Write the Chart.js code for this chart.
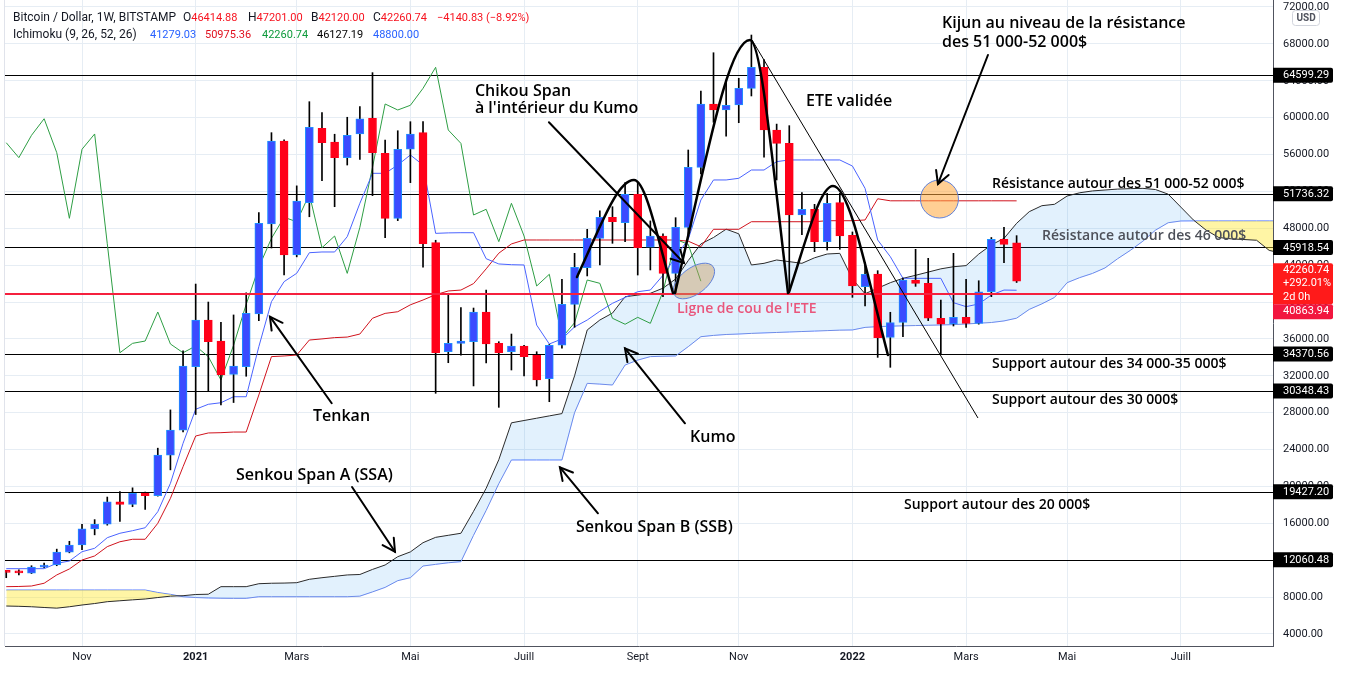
<!DOCTYPE html>
<html>
<head>
<meta charset="utf-8">
<script src="https://cdn.jsdelivr.net/npm/chart.js@4.4.1/dist/chart.umd.min.js"></script>
<style>
  html, body { margin: 0; padding: 0; background: #fff; }
</style>
</head>
<body>
<canvas id="chart" width="1345" height="677"></canvas>
<script>
// weekly candles, BTC/USD Bitstamp, week 0 = 21 Sep 2020 ... week 80 = 4 Apr 2022
const opens = [
  10780, 10730, 10600, 11250, 11480, 12880, 13650, 15400, 15900, 18320,
  18060, 19260, 19000, 23400, 26100, 33000, 38050, 35770, 32150, 33000,
  38700, 48460, 57470, 45100, 50780, 58840, 57360, 55660, 58230, 59930,
  56130, 49080, 56570, 58370, 46440, 34610, 35520, 35700, 38920, 35520,
  34610, 35230, 34220, 31690, 35310, 39750, 43730, 46910, 49190, 48600,
  51690, 45940, 47160, 43110, 48100, 54610, 61480, 60830, 61370, 63180,
  65460, 58660, 57210, 49440, 50060, 46550, 50780, 47240, 41670, 43040,
  36160, 37800, 42390, 42030, 38240, 37620, 38340, 37690, 41120, 46800,
  46414.88
];
const highs = [
  10820, 10950, 11400, 11700, 13200, 14050, 15900, 16400, 18850, 19450,
  19850, 19400, 24150, 28300, 34700, 41950, 40000, 37800, 38600, 41000,
  49700, 58370, 57600, 52600, 61730, 60540, 58200, 60040, 61190, 64880,
  57570, 58580, 59560, 59560, 46700, 40950, 39390, 39350, 41300, 35700,
  36530, 35300, 34610, 35400, 42470, 45280, 47890, 49900, 50340, 52950,
  52870, 48800, 47400, 49150, 56490, 62890, 67040, 64080, 64270, 68960,
  66300, 59300, 59130, 51860, 50600, 51790, 51790, 47600, 44310, 43400,
  38890, 42600, 45720, 44740, 40220, 45280, 42470, 42310, 47000, 48100,
  47201.00
];
const lows = [
  10100, 10400, 10550, 11200, 11400, 12800, 13150, 14750, 15800, 16200,
  17800, 17500, 18950, 21800, 25900, 27800, 30300, 28850, 29100, 31950,
  37980, 45860, 42930, 44900, 49250, 53160, 50340, 54860, 55480, 51540,
  46980, 48830, 52950, 43770, 30100, 33420, 34250, 30900, 33390, 28580,
  32630, 31980, 30890, 29190, 35000, 37260, 42830, 44020, 46370, 46550,
  42930, 43480, 40580, 40950, 47100, 53900, 59500, 58000, 59450, 62350,
  55700, 53240, 41300, 47300, 45460, 45640, 45720, 40510, 39570, 34000,
  32920, 36240, 41700, 37980, 34360, 37400, 37260, 37600, 40580, 44270,
  42120.00
];
const closes = [
  10680, 10620, 11250, 11480, 12880, 13650, 15400, 15900, 18320, 18060,
  19260, 19000, 23400, 26100, 33050, 38050, 35700, 32100, 33060, 38770,
  48540, 57470, 45100, 50960, 58950, 57280, 55660, 58080, 59880, 56200,
  49080, 56570, 58230, 46330, 34500, 35520, 35770, 38920, 35450, 34500,
  35230, 34070, 31550, 35310, 39750, 43770, 46910, 49190, 48710, 51690,
  45890, 47160, 43110, 48100, 54610, 61480, 60830, 61340, 63180, 65460,
  58660, 57210, 49440, 50060, 46550, 50710, 47160, 41740, 43010, 36130,
  37760, 42390, 42030, 38240, 37590, 38340, 37690, 41120, 46800, 46260,
  42260.74
];

// Ichimoku lines (per week)
const tenkan = [
  11080, 11080, 11080, 11080, 11660, 11910, 12920, 13290, 14440, 14920,
  15200, 15520, 17260, 20340, 24680, 28370, 28910, 29080, 29730, 29730,
  35160, 40040, 42210, 43120, 45350, 45430, 45430, 47090, 50710, 53960,
  53960, 54860, 55950, 54860, 47450, 47500, 47520, 47520, 44700, 44130,
  44050, 44020, 37500, 35450, 36000, 37300, 38050, 39000, 39860, 40500,
  41120, 41300, 42900, 44900, 46800, 51070, 53240, 53240, 53420, 54320,
  54320, 55230, 55410, 55410, 55410, 55410, 55410, 54750, 52330, 46730,
  44920, 42570, 42570, 42570, 42570, 39930, 39500, 39790, 40760, 41300,
  41279.03
];
const kijun = [
  9130, 9150, 9200, 9500, 10400, 11050, 12020, 12460, 13470, 14000,
  14270, 14270, 16000, 18710, 22140, 25470, 25800, 25830, 25900, 25900,
  29920, 34080, 34150, 34250, 35880, 36000, 36140, 36200, 36530, 38240,
  38770, 38950, 39700, 40220, 40800, 41200, 41300, 42000, 43600, 45300,
  46300, 46730, 46730, 46730, 46730, 46730, 46730, 46730, 46730, 46730,
  46730, 46730, 46730, 46730, 46600, 46000, 47890, 47890, 47890, 48710,
  48710, 48710, 48710, 48710, 48710, 48820, 48820, 48820, 48900, 51200,
  50980, 50980, 50980, 50980, 50980, 50980, 50980, 50980, 50980, 50980,
  50975.36
];
// Senkou spans, already shifted forward (week 0 ... week 101)
const senkouA = [
  7030, 7000, 6950, 6870, 6800, 6950, 7140, 7300, 7500, 7600,
  7700, 7790, 7950, 8100, 8150, 8280, 8310, 9130, 9130, 9130,
  9450, 9500, 9520, 9560, 9930, 10100, 10250, 10400, 10450, 11000,
  11480, 12380, 12900, 13900, 14480, 14700, 14920, 17300, 19800, 22900,
  26900, 27150, 27400, 27650, 27900, 32000, 36970, 38050, 38800, 40580,
  40750, 40950, 41500, 42500, 44500, 46300, 47000, 47900, 47400, 44020,
  44200, 44560, 44380, 44200, 44800, 45210, 45280, 42500, 40900, 41500,
  42100, 42570, 42900, 43250, 43600, 43830, 43950, 45200, 46200, 46900,
  48540, 49800, 50450, 50600, 51500, 51850, 52050, 52150, 52250, 52300,
  52330, 52200, 51700, 50300, 48900, 47800, 47000, 46850, 46780, 46700,
  45600, 45300
];
const senkouB = [
  8770, 8770, 8770, 8770, 8770, 8770, 8770, 8770, 8770, 8770,
  8770, 8770, 8500, 8300, 8040, 7950, 7900, 7870, 7860, 7860,
  8040, 8040, 8040, 8040, 8040, 8040, 8040, 8040, 8100, 8560,
  9050, 9780, 10100, 11370, 11550, 11720, 11840, 14700, 17400, 20300,
  22870, 22870, 22870, 22870, 22870, 28000, 31180, 31100, 31000, 33170,
  33700, 34080, 34120, 34150, 35160, 36240, 36380, 36480, 36530, 36600,
  36650, 36700, 36750, 36800, 36850, 36900, 36950, 36970, 37250, 37330,
  37380, 37420, 37450, 37480, 37510, 37550, 37620, 37700, 37780, 37950,
  38250, 39200, 39800, 40500, 42100, 42650, 43100, 43700, 44700, 45600,
  46600, 47800, 48600, 48790, 48800, 48800, 48800, 48800, 48800, 48800,
  48800, 48800
];
const chikouShift = 25;

// axes
const monthTicks = [6, 15, 23, 32, 41, 50, 58, 67, 76, 84, 93];
const monthLabels = ['Nov', '2021', 'Mars', 'Mai', 'Juill', 'Sept', 'Nov', '2022', 'Mars', 'Mai', 'Juill'];
const priceTicks = [4000, 8000, 12000, 16000, 20000, 24000, 28000, 32000, 36000,
  40000, 44000, 48000, 52000, 56000, 60000, 64000, 68000, 72000];

// horizontal levels drawn on the chart
const levels = [64599.29, 51736.32, 45918.54, 34370.56, 30348.43, 19427.20, 12060.48];
const neckline = 40863.94;

// drawings, in [week, price]
const notes = [
  ['Kijun au niveau de la résistance', 74.09, 70265, 16, '#000'],
  ['des 51 000-52 000$', 74.09, 68204, 16, '#000'],
  ['ETE validée', 63.32, 61805, 16, '#000'],
  ['Chikou Span', 37.11, 62889, 16, '#000'],
  ["à l'intérieur du Kumo", 37.11, 61046, 16, '#000'],
  ['Résistance autour des 51 000-52 000$', 78.05, 52803, 14, '#000'],
  ['Résistance autour des 46 000$', 82.01, 47163, 14, '#4d5059'],
  ["Ligne de cou de l'ETE", 53.11, 39245, 14, '#e9557b'],
  ['Support autour des 34 000-35 000$', 78.05, 33280, 14, '#000'],
  ['Support autour des 30 000$', 78.05, 29375, 14, '#000'],
  ['Support autour des 20 000$', 71.08, 17987, 14, '#000'],
  ['Tenkan', 24.29, 27640, 16, '#000'],
  ['Kumo', 54.14, 25362, 16, '#000'],
  ['Senkou Span A (SSA)', 18.19, 21241, 16, '#000'],
  ['Senkou Span B (SSB)', 45.11, 15601, 16, '#000']
];
const arrows = [
  [[25.77, 29020], [20.88, 38410]],
  [[53.74, 26847], [48.99, 34982]],
  [[27.38, 19939], [30.78, 12924]],
  [[46.85, 17086], [43.84, 22074]],
  [[42.97, 59494], [53.66, 44234]],
  [[77.73, 66794], [73.77, 52803]]
];
const eteLine = [[59.05, 68421], [76.94, 27423]];
const domes = [
  [[45.19, 42716], [49.70, 53236], [52.79, 40980]],
  [[52.95, 40980], [58.89, 68421], [61.90, 40980]],
  [[61.98, 41089], [65.46, 52586], [69.81, 34256]]
];
const circles = [
  { at: [73.89, 51176], rx: 19, ry: 19, rot: 0, fill: 'rgba(255,168,60,0.55)' },
  { at: [54.45, 42282], rx: 24, ry: 13, rot: -0.65, fill: 'rgba(200,155,95,0.45)' }
];

const UP = '#3b4bff', UP_EDGE = '#1e90ff', DOWN = '#ff0019';
const isUp = i => closes[i] >= opens[i];

Chart.defaults.font.family = 'Roboto, "Liberation Sans", sans-serif';
Chart.defaults.font.size = 11;
Chart.defaults.color = '#131722';

function toPx(chart, pt) {
  return { x: chart.scales.x.getPixelForValue(pt[0]), y: chart.scales.y.getPixelForValue(pt[1]) };
}

const drawings = {
  id: 'drawings',
  beforeDatasetsDraw(chart) {
    const { ctx, chartArea: a, scales: { y } } = chart;
    ctx.save();
    ctx.strokeStyle = '#000';
    ctx.lineWidth = 1;
    levels.forEach(v => {
      const py = Math.round(y.getPixelForValue(v)) + 0.5;
      ctx.beginPath(); ctx.moveTo(a.left, py); ctx.lineTo(a.right, py); ctx.stroke();
    });
    ctx.restore();
  },
  afterDatasetsDraw(chart) {
    const { ctx, chartArea: a, scales: { y } } = chart;
    ctx.save();
    // neckline
    const ny = y.getPixelForValue(neckline);
    ctx.strokeStyle = '#f5203e'; ctx.lineWidth = 2;
    ctx.beginPath(); ctx.moveTo(a.left, ny); ctx.lineTo(a.right, ny); ctx.stroke();

    // ellipses
    circles.forEach(c => {
      const p = toPx(chart, c.at);
      ctx.beginPath();
      ctx.ellipse(p.x, p.y, c.rx, c.ry, c.rot, 0, Math.PI * 2);
      ctx.fillStyle = c.fill; ctx.fill();
      ctx.strokeStyle = '#5f80d8'; ctx.lineWidth = 1; ctx.stroke();
    });

    // ETE thin line
    const p0 = toPx(chart, eteLine[0]), p1 = toPx(chart, eteLine[1]);
    ctx.strokeStyle = '#000'; ctx.lineWidth = 1;
    ctx.beginPath(); ctx.moveTo(p0.x, p0.y); ctx.lineTo(p1.x, p1.y); ctx.stroke();

    // head & shoulders domes
    ctx.lineWidth = 2.5; ctx.lineCap = 'round';
    domes.forEach(d => {
      const s = toPx(chart, d[0]), k = toPx(chart, d[1]), e = toPx(chart, d[2]);
      const dx1 = k.x - s.x, dy1 = k.y - s.y, dx2 = e.x - k.x, dy2 = e.y - k.y;
      ctx.beginPath();
      ctx.moveTo(s.x, s.y);
      ctx.bezierCurveTo(s.x + 0.4 * dx1, s.y + 0.5 * dy1, k.x - 0.3 * dx1, k.y, k.x, k.y);
      ctx.bezierCurveTo(k.x + 0.3 * dx2, k.y, e.x - 0.4 * dx2, e.y - 0.5 * dy2, e.x, e.y);
      ctx.stroke();
    });

    // arrows
    ctx.lineWidth = 2;
    arrows.forEach(ar => {
      const f = toPx(chart, ar[0]), t = toPx(chart, ar[1]);
      const ang = Math.atan2(t.y - f.y, t.x - f.x);
      ctx.beginPath(); ctx.moveTo(f.x, f.y); ctx.lineTo(t.x, t.y); ctx.stroke();
      ctx.beginPath();
      ctx.moveTo(t.x - 14 * Math.cos(ang - 0.5), t.y - 14 * Math.sin(ang - 0.5));
      ctx.lineTo(t.x, t.y);
      ctx.lineTo(t.x - 14 * Math.cos(ang + 0.5), t.y - 14 * Math.sin(ang + 0.5));
      ctx.stroke();
    });

    // texts
    ctx.textBaseline = 'middle'; ctx.textAlign = 'left';
    notes.forEach(n => {
      const p = toPx(chart, [n[1], n[2]]);
      ctx.font = '600 ' + n[3] + 'px "Open Sans", sans-serif';
      ctx.fillStyle = n[4];
      ctx.fillText(n[0], p.x, p.y);
    });
    ctx.restore();
  },
  afterDraw(chart) {
    const { ctx, chartArea: a, scales: { y } } = chart;
    ctx.save();
    // left pane border
    ctx.strokeStyle = '#e0e3eb'; ctx.lineWidth = 1;
    ctx.beginPath(); ctx.moveTo(a.left - 0.5, 0); ctx.lineTo(a.left - 0.5, a.bottom); ctx.stroke();

    // header legend
    ctx.textBaseline = 'middle';
    const txt = '12px Roboto, "Liberation Sans", sans-serif';
    const num = '11px Roboto, "Liberation Sans", sans-serif';
    const put = (t, x, yy, c, f) => { ctx.font = f; ctx.fillStyle = c; ctx.fillText(t, x, yy); return x + ctx.measureText(t).width; };
    const last = closes.length - 1, red = '#f7131f', dark = '#131722';
    put('Bitcoin / Dollar, 1W, BITSTAMP', 13, 18, dark, txt);
    [['O', opens[last], 183], ['H', highs[last], 248], ['B', lows[last], 311], ['C', closes[last], 373]]
      .forEach(([k, v, x]) => { const nx = put(k, x, 18, dark, txt); put(v.toFixed(2), nx, 18, red, num); });
    put('\u22124140.83 (\u22128.92%)', 437, 18, red, num);
    put('Ichimoku (9, 26, 52, 26)', 13, 35, dark, txt);
    put(tenkan[last].toFixed(2), 150, 35, '#2962ff', num);
    put(kijun[last].toFixed(2), 205, 35, '#e0101e', num);
    put(closes[last].toFixed(2), 262, 35, '#0e9a3c', num);
    put('46127.19', 317, 35, '#000', num);
    put('48800.00', 373, 35, '#2962ff', num);

    // price labels on the axis
    const bx = a.right, bw = 60;
    ctx.font = num;
    levels.forEach(v => {
      const py = y.getPixelForValue(v);
      ctx.fillStyle = '#000';
      ctx.beginPath(); ctx.roundRect(bx, py - 7.5, bw, 15, [0, 2, 2, 0]); ctx.fill();
      ctx.fillStyle = '#fff'; ctx.fillText(v.toFixed(2), bx + 10, py + 0.5);
    });
    const cy = y.getPixelForValue(closes[last]);
    const top = cy - 18;
    ctx.fillStyle = '#ff1a1a';
    ctx.beginPath(); ctx.roundRect(bx, top, bw, 41, [0, 2, 2, 0]); ctx.fill();
    ctx.fillStyle = '#fff';
    ctx.fillText(closes[last].toFixed(2), bx + 10, top + 7);
    ctx.fillText('+292.01%', bx + 10, top + 20.5);
    ctx.fillText('2d 0h', bx + 10, top + 34);
    ctx.fillStyle = '#f2163f';
    ctx.beginPath(); ctx.roundRect(bx, top + 41, bw, 15, [0, 2, 2, 0]); ctx.fill();
    ctx.fillStyle = '#fff';
    ctx.fillText(neckline.toFixed(2), bx + 10, top + 48.5);

    // USD badge
    ctx.fillStyle = '#fff'; ctx.strokeStyle = '#d1d4dc';
    ctx.beginPath(); ctx.roundRect(1292.5, 10.5, 27, 15, 3); ctx.fill(); ctx.stroke();
    ctx.fillStyle = '#50535e'; ctx.font = 'bold 10px Roboto, sans-serif'; ctx.textAlign = 'center';
    ctx.fillText('USD', 1306, 18.5);
    ctx.restore();
  }
};

new Chart(document.getElementById('chart'), {
  type: 'line',
  data: {
    datasets: [
      {
        type: 'bar', label: 'body',
        data: opens.map((o, i) => ({ x: i, y: [o, closes[i]] })),
        backgroundColor: c => isUp(c.dataIndex) ? UP : DOWN,
        borderColor: c => isUp(c.dataIndex) ? UP_EDGE : DOWN,
        borderWidth: 1, borderSkipped: false,
        barThickness: 8, minBarLength: 2, grouped: false, order: 1
      },
      {
        type: 'bar', label: 'wick',
        data: lows.map((l, i) => ({ x: i, y: [l, highs[i]] })),
        backgroundColor: '#000', borderWidth: 0,
        barThickness: 1, grouped: false, order: 2
      },
      {
        label: 'Tenkan', data: tenkan.map((v, i) => ({ x: i, y: v })),
        borderColor: '#4a63ff', borderWidth: 1, pointRadius: 0, order: 3
      },
      {
        label: 'Kijun', data: kijun.map((v, i) => ({ x: i, y: v })),
        borderColor: '#d0131d', borderWidth: 1, pointRadius: 0, order: 3
      },
      {
        label: 'Chikou', data: closes.slice(chikouShift).map((v, i) => ({ x: i, y: v })),
        borderColor: '#2e9e44', borderWidth: 1, pointRadius: 0, order: 3
      },
      {
        label: 'Senkou A', data: senkouA.map((v, i) => ({ x: i, y: v })),
        borderColor: '#2a2a2a', borderWidth: 1, pointRadius: 0, order: 4,
        fill: { target: '+1', above: 'rgba(33,150,243,0.13)', below: 'rgba(255,232,40,0.42)' }
      },
      {
        label: 'Senkou B', data: senkouB.map((v, i) => ({ x: i, y: v })),
        borderColor: '#5f80ff', borderWidth: 1, pointRadius: 0, order: 4
      }
    ]
  },
  options: {
    responsive: false,
    animation: false,
    events: [],
    layout: { padding: { left: 5, right: 0, top: 0, bottom: 0 } },
    plugins: { legend: { display: false }, tooltip: { enabled: false } },
    scales: {
      x: {
        type: 'linear', min: -0.098, max: 100.3, offset: false,
        afterBuildTicks: s => { s.ticks = monthTicks.map(v => ({ value: v })); },
        afterFit: s => { s.height = 31; s.paddingLeft = 0; s.paddingRight = 0; },
        ticks: {
          autoSkip: false, maxRotation: 0, padding: 5,
          callback: (v, i) => monthLabels[i],
          font: c => ({ size: 11, weight: (monthLabels[c.index] || '').startsWith('20') ? 'bold' : 'normal' })
        },
        grid: { color: '#e6edf4', drawTicks: false, offset: false },
        border: { display: true, color: '#50535e' }
      },
      y: {
        type: 'linear', position: 'right', min: 2694, max: 72759,
        afterBuildTicks: s => { s.ticks = priceTicks.map(v => ({ value: v })); },
        afterFit: s => { s.width = 72; s.paddingTop = 0; s.paddingBottom = 0; },
        ticks: { padding: 10, crossAlign: 'near', callback: v => v.toFixed(2) },
        grid: { color: '#e6edf4', drawTicks: false },
        border: { display: true, color: '#50535e' }
      }
    }
  },
  plugins: [drawings]
});
</script>
</body>
</html>
